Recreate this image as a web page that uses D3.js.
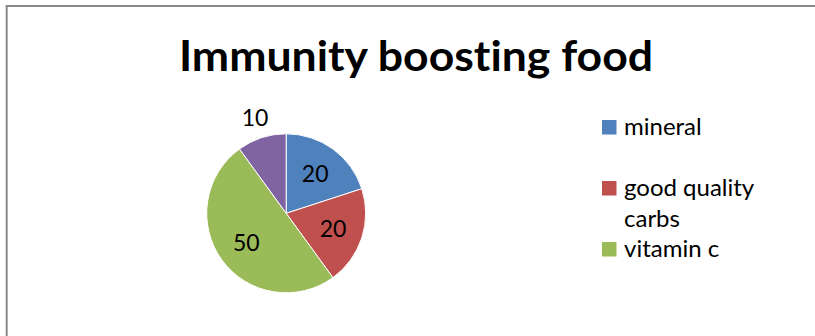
<!DOCTYPE html>
<html>
<head>
<meta charset="utf-8">
<script src="https://cdn.jsdelivr.net/npm/d3@7"></script>
<style>
  html, body { margin: 0; padding: 0; background: #fff; }
  svg { display: block; }
  text { font-variant-ligatures: none; }
</style>
</head>
<body>
<svg id="chart" width="815" height="336"></svg>
<script>
// Chart data
const title = "Immunity boosting food";
const categories = ["mineral", "good quality carbs", "vitamin c", "other"];
const values = [20, 20, 50, 10];
const colors = ["#4F81BD", "#C0504D", "#9BBB59", "#8064A2"];

const W = 815, H = 336;
const svg = d3.select("#chart");
const font = "Lato, 'Open Sans', sans-serif";

// Chart area frame: only the top and left edges fall inside the view
const frame = svg.append("g").attr("stroke", "#8a8a8a").attr("stroke-width", 2);
frame.append("line").attr("x1", 5.7).attr("y1", 6).attr("x2", W).attr("y2", 6);
frame.append("line").attr("x1", 6.7).attr("y1", 5).attr("x2", 6.7).attr("y2", H);

// Title, stretched to its box width
svg.append("text")
  .attr("x", 416).attr("y", 71)
  .attr("text-anchor", "middle")
  .attr("font-family", font)
  .attr("font-weight", 700)
  .attr("font-size", 42)
  .attr("textLength", 474)
  .attr("lengthAdjust", "spacingAndGlyphs")
  .attr("fill", "#000")
  .text(title);

// Pie
const cx = 286.2, cy = 213.3, r = 79.5;
const pie = d3.pie().sort(null).value(d => d.value);
const arcs = pie(categories.map((c, i) => ({ name: c, value: values[i], color: colors[i] })));
const arc = d3.arc().innerRadius(0).outerRadius(r);

const g = svg.append("g").attr("transform", `translate(${cx},${cy})`);
g.selectAll("path.slice")
  .data(arcs)
  .join("path")
  .attr("class", "slice")
  .attr("d", arc)
  .attr("fill", d => d.data.color)
  .attr("stroke", "#fff")
  .attr("stroke-width", 1);

// Data labels: inside slices when roomy, outside for the small slice
const labelArcIn = d3.arc().innerRadius(r * 0.62).outerRadius(r * 0.62);
const labelArcOut = d3.arc().innerRadius(r * 1.27).outerRadius(r * 1.27);
g.selectAll("text.lbl")
  .data(arcs)
  .join("text")
  .attr("class", "lbl")
  .attr("transform", d => {
    const share = (d.endAngle - d.startAngle) / (2 * Math.PI);
    const p = share < 0.15 ? labelArcOut.centroid(d) : labelArcIn.centroid(d);
    return `translate(${p[0]},${p[1]})`;
  })
  .attr("text-anchor", "middle")
  .attr("dy", "0.36em")
  .attr("font-family", font)
  .attr("font-size", 23)
  .attr("fill", "#000")
  .text(d => d.data.value);

// Legend: entries wrap to fit the legend width; entries that do not fit the box are dropped
const legX = 602, legTop = 104, legBottom = 290, slot = 61, lineH = 31, legTextW = 175;
const leg = svg.append("g");
const measure = svg.append("text").attr("font-family", font).attr("font-size", 24).attr("visibility", "hidden");
function wrap(str) {
  const words = str.split(" ");
  const lines = [];
  let cur = "";
  words.forEach(w => {
    const t = cur ? cur + " " + w : w;
    measure.text(t);
    if (cur && measure.node().getComputedTextLength() > legTextW) { lines.push(cur); cur = w; }
    else cur = t;
  });
  if (cur) lines.push(cur);
  return lines;
}
categories.forEach((c, i) => {
  const base = legTop + 31 + i * slot;
  const lines = wrap(c);
  if (base + (lines.length - 1) * lineH > legBottom) return;
  leg.append("rect")
    .attr("x", legX).attr("y", base - 15)
    .attr("width", 14.5).attr("height", 14.5)
    .attr("fill", colors[i]);
  const t = leg.append("text")
    .attr("x", legX + 22).attr("y", base)
    .attr("font-family", font)
    .attr("font-size", 24)
    .attr("fill", "#000");
  lines.forEach((ln, k) => {
    t.append("tspan").attr("x", legX + 22).attr("y", base + k * lineH).text(ln);
  });
});
measure.remove();
</script>
</body>
</html>
